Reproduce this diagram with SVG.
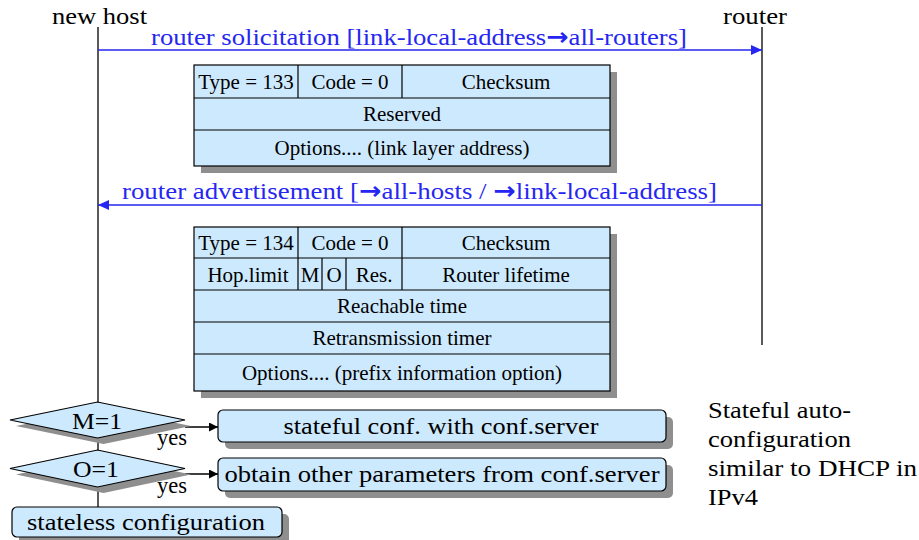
<svg xmlns="http://www.w3.org/2000/svg" width="919" height="540" viewBox="0 0 919 540" font-family="'Liberation Serif', 'DejaVu Serif', serif">
  <style>
    text { font-family: 'Liberation Serif', 'DejaVu Serif', serif; fill: #000; }
    .big { font-size: 24px; }
    .fld { font-size: 21px; text-anchor: middle; }
    .mid { text-anchor: middle; }
    .msg { font-size: 24px; fill: #2626f2; }
    .arw { font-family: 'DejaVu Sans', sans-serif; font-weight: bold; }
    .cell { fill: #cde9fd; stroke: #000; stroke-width: 1.2; }
    .shadow { fill: #8f8f8f; }
    .life { stroke: #000; stroke-width: 1.3; fill: none; }
    .blue { stroke: #2626f2; stroke-width: 1.5; fill: none; }
    .flow { stroke: #000; stroke-width: 1.3; fill: none; }
    .div { stroke: #000; stroke-width: 1.2; }
  </style>
  <defs>
    <marker id="blueHead" markerUnits="userSpaceOnUse" markerWidth="12" markerHeight="10" refX="11" refY="5" orient="auto">
      <path d="M0,0 L11,5 L0,10 z" fill="#2626f2"/>
    </marker>
    <marker id="blackHead" markerUnits="userSpaceOnUse" markerWidth="10" markerHeight="9" refX="9" refY="4.5" orient="auto">
      <path d="M0,0 L9,4.5 L0,9 z" fill="#000"/>
    </marker>
  </defs>

  <rect width="919" height="540" fill="#fff"/>

  <!-- lifelines, messages and decision arrows -->
  <g id="connectors">
    <line class="life" x1="98" y1="27" x2="98" y2="507"/>
    <line class="life" x1="762" y1="27" x2="762" y2="345"/>
    <line class="blue" x1="98" y1="50" x2="762" y2="50" marker-end="url(#blueHead)"/>
    <line class="blue" x1="762" y1="205" x2="98" y2="205" marker-end="url(#blueHead)"/>
    <line class="flow" x1="185" y1="427" x2="218" y2="427" marker-end="url(#blackHead)"/>
    <line class="flow" x1="185" y1="474" x2="218" y2="474" marker-end="url(#blackHead)"/>
  </g>

  <g id="host-label">
    <text class="big" x="52" y="24" textLength="95" lengthAdjust="spacingAndGlyphs">new host</text>
  </g>
  <g id="router-label">
    <text class="big" x="723" y="24" textLength="64" lengthAdjust="spacingAndGlyphs">router</text>
  </g>

  <g id="solicitation-label">
    <text class="msg" x="151" y="45" textLength="536" lengthAdjust="spacingAndGlyphs">router solicitation [link-local-address<tspan class="arw">→</tspan>all-routers]</text>
  </g>
  <g id="advertisement-label">
    <text class="msg" x="122" y="199" textLength="595" lengthAdjust="spacingAndGlyphs">router advertisement [<tspan class="arw">→</tspan>all-hosts / <tspan class="arw">→</tspan>link-local-address]</text>
  </g>

  <!-- router solicitation packet (type 133) -->
  <g id="rs-packet">
    <rect class="shadow" x="201" y="72" width="416" height="101"/>
    <rect class="cell" x="194" y="65" width="416" height="101"/>
    <line class="div" x1="194" y1="98" x2="610" y2="98"/>
    <line class="div" x1="194" y1="130" x2="610" y2="130"/>
    <line class="div" x1="298" y1="65" x2="298" y2="98"/>
    <line class="div" x1="402" y1="65" x2="402" y2="98"/>
    <text class="fld" x="246" y="89">Type = 133</text>
    <text class="fld" x="350" y="89">Code = 0</text>
    <text class="fld" x="506" y="89">Checksum</text>
    <text class="fld" x="402" y="121">Reserved</text>
    <text class="fld" x="402" y="155">Options.... (link layer address)</text>
  </g>

  <!-- router advertisement packet (type 134) -->
  <g id="ra-packet">
    <rect class="shadow" x="201" y="234" width="416" height="164"/>
    <rect class="cell" x="194" y="227" width="416" height="164"/>
    <line class="div" x1="194" y1="258" x2="610" y2="258"/>
    <line class="div" x1="194" y1="290" x2="610" y2="290"/>
    <line class="div" x1="194" y1="322" x2="610" y2="322"/>
    <line class="div" x1="194" y1="354" x2="610" y2="354"/>
    <line class="div" x1="298" y1="227" x2="298" y2="290"/>
    <line class="div" x1="402" y1="227" x2="402" y2="290"/>
    <line class="div" x1="322" y1="258" x2="322" y2="290"/>
    <line class="div" x1="346" y1="258" x2="346" y2="290"/>
    <text class="fld" x="246" y="250">Type = 134</text>
    <text class="fld" x="350" y="250">Code = 0</text>
    <text class="fld" x="506" y="250">Checksum</text>
    <text class="fld" x="248" y="282">Hop.limit</text>
    <text class="fld" x="310" y="282">M</text>
    <text class="fld" x="334" y="282">O</text>
    <text class="fld" x="374" y="282">Res.</text>
    <text class="fld" x="506" y="282">Router lifetime</text>
    <text class="fld" x="402" y="313">Reachable time</text>
    <text class="fld" x="402" y="345">Retransmission timer</text>
    <text class="fld" x="402" y="380">Options.... (prefix information option)</text>
  </g>

  <!-- decision on the M flag -->
  <g id="decision-m">
    <polygon class="shadow" points="16,426 103.5,408 191,426 103.5,444"/>
    <polygon class="cell" points="10,420 97.5,402 185,420 97.5,438"/>
    <text class="big mid" x="97" y="429" textLength="50" lengthAdjust="spacingAndGlyphs">M=1</text>
    <text class="big" x="157" y="445" textLength="30" lengthAdjust="spacingAndGlyphs">yes</text>
  </g>

  <!-- decision on the O flag -->
  <g id="decision-o">
    <polygon class="shadow" points="16,474.5 103.5,456 191,474.5 103.5,493"/>
    <polygon class="cell" points="10,468.5 97.5,450 185,468.5 97.5,487"/>
    <text class="big mid" x="96" y="477" textLength="46" lengthAdjust="spacingAndGlyphs">O=1</text>
    <text class="big" x="157" y="493" textLength="30" lengthAdjust="spacingAndGlyphs">yes</text>
  </g>

  <g id="stateful-box">
    <rect class="shadow" x="225" y="417" width="448" height="32" rx="5"/>
    <rect class="cell" x="218" y="410" width="448" height="32" rx="5"/>
    <text class="big mid" x="441" y="434" textLength="315" lengthAdjust="spacingAndGlyphs">stateful conf. with conf.server</text>
  </g>

  <g id="other-params-box">
    <rect class="shadow" x="225" y="465" width="448" height="33" rx="5"/>
    <rect class="cell" x="218" y="458" width="448" height="33" rx="5"/>
    <text class="big mid" x="442" y="482" textLength="435" lengthAdjust="spacingAndGlyphs">obtain other parameters from conf.server</text>
  </g>

  <g id="stateless-box">
    <rect class="shadow" x="19" y="514" width="270" height="30" rx="5"/>
    <rect class="cell" x="12" y="507" width="270" height="30" rx="5"/>
    <text class="big mid" x="146" y="530" textLength="238" lengthAdjust="spacingAndGlyphs">stateless configuration</text>
  </g>

  <g id="note">
    <text class="big" x="708" y="418" textLength="143" lengthAdjust="spacingAndGlyphs">Stateful auto-</text>
    <text class="big" x="708" y="447" textLength="143" lengthAdjust="spacingAndGlyphs">configuration</text>
    <text class="big" x="708" y="476" textLength="209" lengthAdjust="spacingAndGlyphs">similar to DHCP in</text>
    <text class="big" x="708" y="505" textLength="50" lengthAdjust="spacingAndGlyphs">IPv4</text>
  </g>
</svg>
